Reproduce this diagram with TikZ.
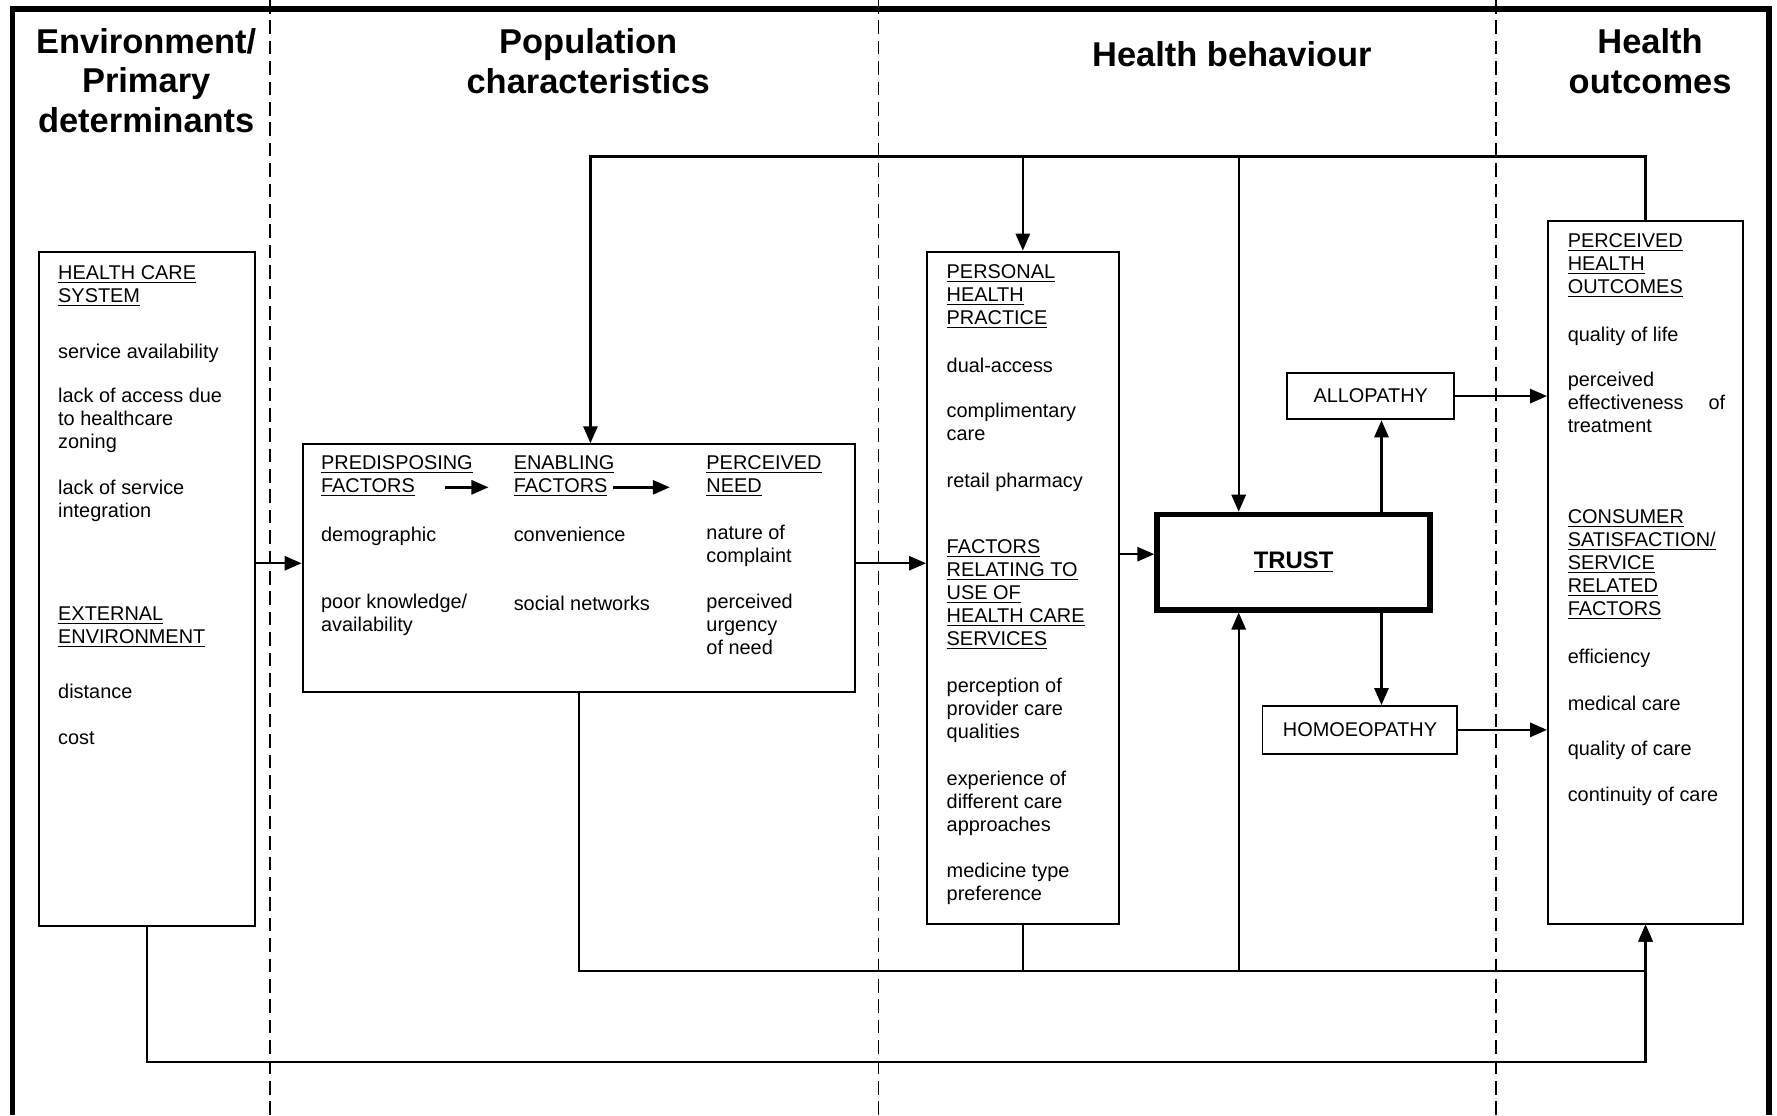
\documentclass[tikz,border=0pt]{standalone}
\usepackage{fontspec}
\setmainfont{Liberation Sans}
\usetikzlibrary{fit,arrows.meta}

\begin{document}
\begin{tikzpicture}[x=0.02cm, y=-0.02cm,
    box/.style={draw=black, line width=1pt, inner sep=0pt},
    lbl/.style={inner sep=0pt, font=\fontsize{10}{11.55}\selectfont},
    txt/.style={anchor=north west, inner sep=0pt, align=left, font=\fontsize{10}{11.55}\selectfont, execute at begin node=\strut},
    head/.style={align=center, inner sep=0pt, font=\bfseries\fontsize{17.3}{19.9}\selectfont},
    arr/.style={line width=1.2pt, -{Triangle[length=3mm, width=2.5mm]}},
    link/.style={line width=1.2pt},
    sep/.style={line width=0.8pt, dash pattern=on 2.4mm off 1.2mm}]
    \useasboundingbox (0,0) rectangle (1568,984);

    \draw[sep] (238,0) -- (238,984);
    \draw[sep] (775,0) -- (775,984);
    \draw[sep] (1320,0) -- (1320,984);
    \draw[line width=2.8pt] (11,984) -- (11,8) -- (1561,8) -- (1561,984);

    \node[head](envhd) at (129,71){Environment/\\Primary\\determinants};
    \node[head](pophd) at (519,54){Population\\characteristics};
    \node[head](behhd) at (1087,48){Health behaviour};
    \node[head](outhd) at (1456,54){Health\\outcomes};

    \node[box, fit={(34,222) (225,817)}](hcs){};
    \node[box, fit={(267,392) (754,611)}](pop){};
    \node[box, fit={(818,222) (987,815)}](php){};
    \node[box, fit={(1366,195) (1538,815)}](out){};
    \node[box, line width=2.8pt, fit={(1021,454) (1262,538)}](trust){};
    \node[box, fit={(1136,329) (1283,370)}](allo){};
    \node[box, fit={(1114,623) (1286,665)}](homo){};
    \node[lbl, font=\bfseries\fontsize{12}{14}\selectfont](trusttxt) at (trust.center){\underline{TRUST}};
    \node[lbl](allotxt) at (allo.center){ALLOPATHY};
    \node[lbl](homotxt) at (homo.center){HOMOEOPATHY};

    \node[txt](hcs1) at (51,234){\underline{HEALTH CARE}\\\underline{SYSTEM}};
    \node[txt](hcs2) at (51,302){service availability};
    \node[txt](hcs3) at (51,342){lack of access due\\to healthcare\\zoning};
    \node[txt](hcs4) at (51,423){lack of service\\integration};
    \node[txt](hcs5) at (51,535){\underline{EXTERNAL}\\\underline{ENVIRONMENT}};
    \node[txt](hcs6) at (51,602){distance};
    \node[txt](hcs7) at (51,642){cost};

    \node[txt](pre) at (283,402){\underline{PREDISPOSING}\\\underline{FACTORS}};
    \node[txt](ena) at (453,402){\underline{ENABLING}\\\underline{FACTORS}};
    \node[txt](need) at (623,402){\underline{PERCEIVED}\\\underline{NEED}};
    \node[txt](pre1) at (283,463){demographic};
    \node[txt](pre2) at (283,524){poor knowledge/\\availability};
    \node[txt](ena1) at (453,463){convenience};
    \node[txt](ena2) at (453,524){social networks};
    \node[txt](need1) at (623,463){nature of\\complaint};
    \node[txt](need2) at (623,524){perceived\\urgency\\of need};

    \node[txt](php1) at (835,233){\underline{PERSONAL}\\\underline{HEALTH}\\\underline{PRACTICE}};
    \node[txt](php2) at (835,314){dual-access};
    \node[txt](php3) at (835,355){complimentary\\care};
    \node[txt](php4) at (835,416){retail pharmacy};
    \node[txt](php5) at (835,476){\underline{FACTORS}\\\underline{RELATING TO}\\\underline{USE OF}\\\underline{HEALTH CARE}\\\underline{SERVICES}};
    \node[txt](php6) at (835,598){perception of\\provider care\\qualities};
    \node[txt](php7) at (835,680){experience of\\different care\\approaches};
    \node[txt](php8) at (835,761){medicine type\\preference};

    \node[txt](out1) at (1383,206){\underline{PERCEIVED}\\\underline{HEALTH}\\\underline{OUTCOMES}};
    \node[txt](out2) at (1383,287){quality of life};
    \node[txt](out3) at (1383,328){perceived\\\makebox[2.78cm][l]{effectiveness\hfill of}\\treatment};
    \node[txt](out4) at (1383,449){\underline{CONSUMER}\\\underline{SATISFACTION/}\\\underline{SERVICE}\\\underline{RELATED}\\\underline{FACTORS}};
    \node[txt](out5) at (1383,571){efficiency};
    \node[txt](out6) at (1383,612){medical care};
    \node[txt](out7) at (1383,652){quality of care};
    \node[txt](out8) at (1383,693){continuity of care};

    \coordinate (prea) at (393,430);
    \coordinate (preb) at (431,430);
    \coordinate (enaa) at (541,430);
    \coordinate (enab) at (591,430);
    \coordinate (rowa) at (0,497);
    \coordinate (rowb) at (0,489);
    \coordinate (colc) at (1219,0);
    \coordinate (ta) at (521,138);
    \coordinate (tc) at (1093,138);
    \coordinate (ba) at (511,857);
    \coordinate (bc) at (1093,857);
    \coordinate (bb) at (0,937);

    \draw[arr] (prea) -- (preb);
    \draw[arr] (enaa) -- (enab);
    \draw[arr] (hcs.east |- rowa) -- (pop.west |- rowa);
    \draw[arr] (pop.east |- rowa) -- (php.west |- rowa);
    \draw[arr] (php.east |- rowb) -- (trust.west |- rowb);
    \draw[arr] (trust.north -| colc) -- (allo.south -| colc);
    \draw[arr] (trust.south -| colc) -- (homo.north -| colc);
    \draw[arr] (allo.east) -- (allo.east -| out.west);
    \draw[arr] (homo.east) -- (homo.east -| out.west);

    \draw[arr] (out.north) |- (ta) -- (ta |- pop.north);
    \draw[arr] (php.north |- ta) -- (php.north);
    \draw[arr] (tc) -- (tc |- trust.north);

    \draw[arr] (ba |- pop.south) -- (ba) -| (out.south);
    \draw[link] (php.south) -- (php.south |- ba);
    \draw[arr] (bc) -- (bc |- trust.south);
    \draw[arr] (hcs.south) |- (out.south |- bb) -- (out.south);
\end{tikzpicture}
\end{document}
